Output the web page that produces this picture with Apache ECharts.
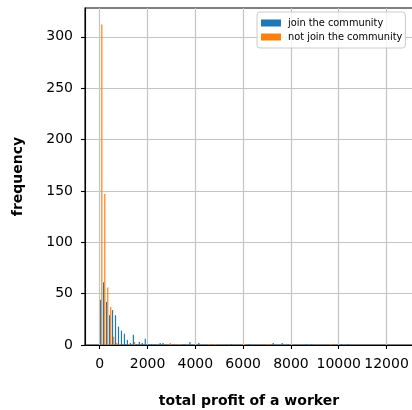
<!DOCTYPE html>
<html>
<head>
<meta charset="utf-8">
<script src="https://cdn.jsdelivr.net/npm/echarts@6/dist/echarts.min.js"></script>
<style>
  html, body { margin: 0; padding: 0; background: #fff; }
  #chart { width: 412px; height: 410px; }
</style>
</head>
<body>
<div id="chart"></div>
<script>
// Histogram of worker total profit: 100 equal bins starting at 0.
const BIN_START = 0;
const BIN_WIDTH = 124.5;

// Counts per bin (index = bin number), workers who joined the community
const joinCounts = [
  44, 61, 42, 29, 34, 29, 18, 14, 11, 5,
  2, 10, 1, 3, 2, 6, 1, 1, 1, 0,
  2, 2, 0, 0, 0, 0, 0, 0, 1, 0,
  3, 0, 0, 2, 0, 0, 0, 0, 0, 0,
  0, 0, 0, 0, 1, 0, 0, 0, 0, 0,
  1, 0, 0, 0, 0, 0, 0, 0, 2, 0,
  0, 2, 0, 1, 0, 0, 0, 0, 0, 1,
  0, 1, 0, 0, 0, 0, 0, 0, 0, 0,
  0, 1, 0, 1
];

// Counts per bin, workers who did not join the community
const notJoinCounts = [
  312, 147, 56, 37, 8, 2, 1, 0, 0, 1,
  0, 3, 0, 0, 0, 0, 0, 0, 0, 0,
  0, 0, 0, 2, 0, 0, 1, 0, 0, 0,
  0, 0, 0, 0, 0, 0, 1, 0, 1, 0,
  0, 0, 0, 0, 0, 0, 0, 0, 1, 0,
  0, 0, 0, 0, 0, 0, 1, 0, 0, 0,
  0, 0, 0, 0, 0, 0, 0, 0, 0, 0,
  0, 0, 0, 0, 0, 0, 0, 1
];

const xTicks = [0, 2000, 4000, 6000, 8000, 10000, 12000];
const yTicks = [0, 50, 100, 150, 200, 250, 300];

const seriesNames = ['join the community', 'not join the community'];
const seriesColors = ['#1f77b4', '#ff7f0e'];

function toBins(counts) {
  return counts.map((c, i) => [
    BIN_START + i * BIN_WIDTH,
    BIN_START + (i + 1) * BIN_WIDTH,
    c
  ]);
}

// Side-by-side bars inside each bin: 80% of the bin shared by the two series
function barRenderer(offsetFrac) {
  return function (params, api) {
    const x0 = api.value(0);
    const x1 = api.value(1);
    const c = api.value(2);
    if (!c) return null;
    const w = x1 - x0;
    const pTop = api.coord([x0 + w * offsetFrac, c]);
    const pBot = api.coord([x0 + w * (offsetFrac + 0.4), 0]);
    return {
      type: 'rect',
      shape: {
        x: pTop[0],
        y: pTop[1],
        width: pBot[0] - pTop[0],
        height: pBot[1] - pTop[1]
      },
      style: api.style()
    };
  };
}

const FONT = 'DejaVu Sans';
const plain = v => String(v);
const chart = echarts.init(document.getElementById('chart'), null, { renderer: 'canvas' });

chart.setOption({
  animation: false,
  backgroundColor: '#fff',
  textStyle: { fontFamily: FONT },
  grid: {
    left: 85, top: 8, width: 328, height: 337,
    outerBoundsMode: 'none',
    containLabel: false,
    show: true, borderColor: '#000', borderWidth: 1.1, backgroundColor: '#fff'
  },
  legend: {
    orient: 'vertical',
    left: 257, top: 12,
    itemWidth: 20, itemHeight: 7, itemGap: 2,
    icon: 'rect',
    padding: [5, 3, 5, 4],
    backgroundColor: 'rgba(255,255,255,0.8)',
    borderColor: '#cccccc', borderWidth: 1, borderRadius: 3,
    textStyle: { fontFamily: FONT, fontSize: 9.8, color: '#000', lineHeight: 12, padding: [0, 0, 0, 2] },
    data: seriesNames
  },
  xAxis: {
    type: 'value',
    min: -617, max: 13107,
    name: 'total profit of a worker',
    nameLocation: 'middle',
    nameGap: 49,
    nameTextStyle: { fontFamily: FONT, fontSize: 14, fontWeight: 'bold', color: '#000' },
    axisLine: { show: true, onZero: false, lineStyle: { color: '#000', width: 1.1 } },
    axisTick: { show: true, length: 4, customValues: xTicks, lineStyle: { color: '#000', width: 1.1 } },
    axisLabel: { customValues: xTicks, formatter: plain, margin: 12, fontFamily: FONT, fontSize: 14, color: '#000',
                 showMinLabel: true, showMaxLabel: true, hideOverlap: false },
    splitLine: { show: true, lineStyle: { color: '#c4c4c4', width: 1.2 } }
  },
  yAxis: {
    type: 'value',
    min: 0, max: 328,
    name: 'frequency',
    nameLocation: 'middle',
    nameRotate: 90,
    nameGap: 60,
    nameTextStyle: { fontFamily: FONT, fontSize: 14, fontWeight: 'bold', color: '#000' },
    axisLine: { show: true, onZero: false, lineStyle: { color: '#000', width: 1.1 } },
    axisTick: { show: true, length: 4, customValues: yTicks, lineStyle: { color: '#000', width: 1.1 } },
    axisLabel: { customValues: yTicks, formatter: plain, margin: 12, fontFamily: FONT, fontSize: 14, color: '#000' },
    splitLine: { show: true, lineStyle: { color: '#c4c4c4', width: 1.2 } }
  },
  series: [
    {
      name: seriesNames[0],
      type: 'custom',
      renderItem: barRenderer(0.1),
      encode: { x: [0, 1], y: 2 },
      itemStyle: { color: seriesColors[0] },
      data: toBins(joinCounts)
    },
    {
      name: seriesNames[1],
      type: 'custom',
      renderItem: barRenderer(0.5),
      encode: { x: [0, 1], y: 2 },
      itemStyle: { color: seriesColors[1] },
      data: toBins(notJoinCounts)
    }
  ]
});
</script>
</body>
</html>
